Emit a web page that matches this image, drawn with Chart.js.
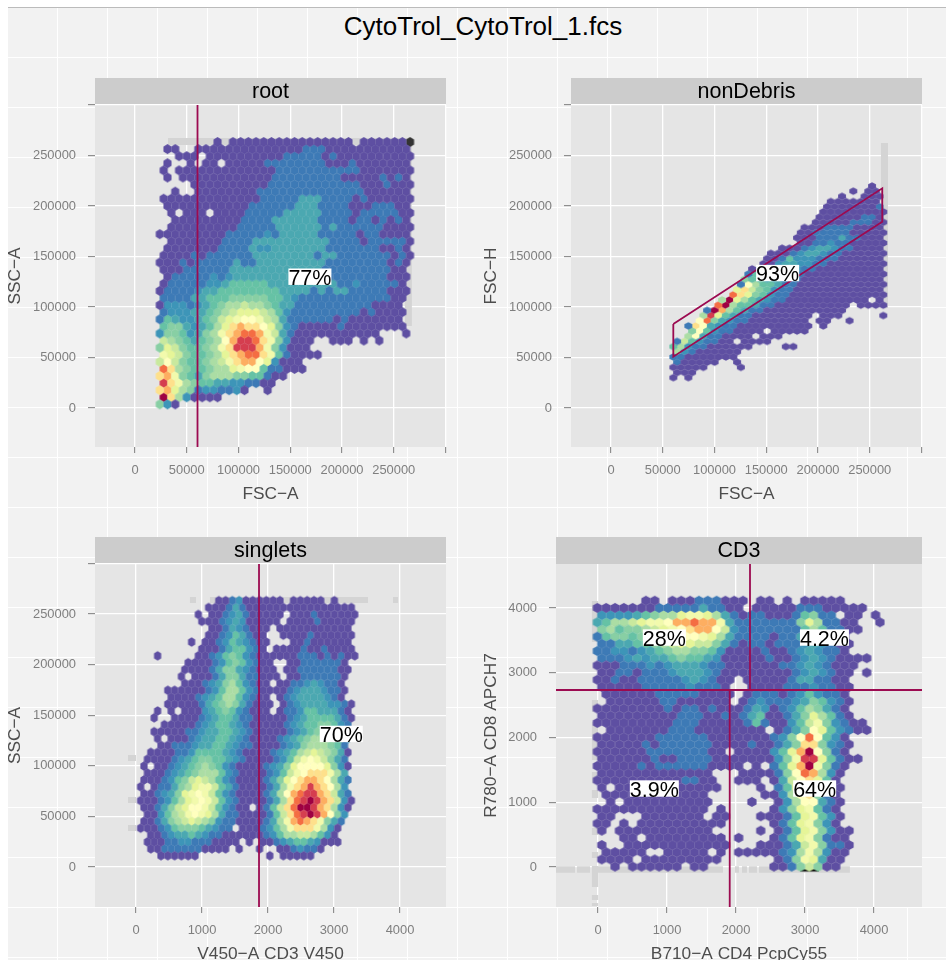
<!DOCTYPE html>
<html>
<head>
<meta charset="utf-8">
<title>CytoTrol_CytoTrol_1.fcs</title>
<script src="https://cdn.jsdelivr.net/npm/chart.js@4"></script>
<style>
    html, body { margin: 0; height: 960px; overflow: hidden; background: #fff; }
    #sheet {
        position: absolute; left: 8px; top: 7px; right: 0; bottom: 0;
        border-top: 1px solid #bbb;
        background-color: #f2f2f2;
        background-image:
            linear-gradient(to right, #fff 1.3px, transparent 1.3px),
            linear-gradient(to bottom, #fff 1.3px, transparent 1.3px);
        background-size: 50px 50px;
        background-position: 49px 49px;
    }
    #mainTitle {
        position: absolute; left: 8px; right: 0; top: 11px; padding-right: 0;
        text-align: center; font: 26px "Liberation Sans", sans-serif; color: #000;
        transform: translateX(6px);
    }
    canvas { position: absolute; }
</style>
</head>
<body>
<div id="sheet"></div>
<div id="mainTitle">CytoTrol_CytoTrol_1.fcs</div>
<canvas id="rootChart"></canvas>
<canvas id="nonDebrisChart"></canvas>
<canvas id="singletsChart"></canvas>
<canvas id="cd3Chart"></canvas>
<script>
// Hex bins, one run-length string per row from the top. Letter = density level, "." = empty bin
const rootRows = [
    "7.a.16a.6az", ".2a2.14a3c11a", "2.3a.10a5cac10a", ".a2.a.2a.5a8c3ac7a", "a.13a11c7a",
    ".a.12a9c5acaca", "4.10a12c3ac3a", "2.a2.8a14c6a", "13a5c3e4cac6a", ".11a6c3e4c3a3c2a",
    ".a.3a.4a5c5e4ca5c2a", "2.9a4c6e4ca2cacaca", ".9a5c6ece6c4a", "9a5cdc5e5ca2c4a", ".7a4c10e4ca5ca",
    ".7a4ce2d7e7c2aca", "4aca6c8ec2e7caca", "3aca5ce2c9e8caca", "3a6c12e9c2a", ".a5cdcd11e9c3a",
    "a5c2de5f9e2cd5ca", "a4cd2e8f4ecec2e5c3a", "4c2e3f5g2fed12c2a", "a3dcdefg2hi2hgf2e10c4a", "c3d2efghi3jihfd9cac4a",
    "cfe2defgijk2lkihe6cac7a", "f2gedefhjmn2mljgdc5ac8a", "d2gfdeghkmn2onkiec11a3.a", "ihgfefghln2pomkgd3a2.3a.a.a", "gjig2fghkmpppnkgd3a",
    "kjig2fghjmn2omkfc4a", "ilig2fghikm2nljd3a", "omhg2fg2hjk2lf2c3a", "mnkgfeg3h2g2fc2a", "pmkhg2f2e2d2c2a",
    "mnjhgc2d2cda2.a", "qmhd4a", "gda"
];
const nonDebrisRows = [
    "27.a", "24.a.2a", "23.a2.3a", "21.7a", "21.7ac", "20.9a", "20.6a2ca", "19.5a3c2a",
    "18.3a4c4a", "17.2a5c5a", "17.3a3ce2c3a", "17.2a2cd2c5a", "15.3acd2ed2c4a", "13.3acd2ed2c6a",
    "13.2acf3d3c6a", "12.2ad2e2d2c8a", "11.ad3e2d2c9a", "10.c2f2ed2c11a", "10.g2f2ed2c11a",
    "9.clh2fe2c12a", "9.jmigfd2c12a", "8.omjgfd2c13a", "7.hqjhfed2c11a.a", "6.oqh2fe2c10a.4a",
    "5.cqnhfe2c11a", "4.hpjfe2c8a.3a5.a", "4.loged2c8a.2a2.a", "2.cmled2c10a.a", "3.glfd2c4a.5a",
    "2.hle2c4a.3a", ".cifd2c2a.4a", "fhd2c6a4.2a", ".hdc6a", "2c7a", ".c5a2.a", "5a4.a", ".3a", "a.a"
];
const singletsRows = [
    "12.2acd6a.5a.a", "10.3acec16a", "9.a.2acdec5a.3ac6a", "9.3acded5a.4ac5a", "11.2acedc3a.11a",
    "10.2acdfec2a2.4ac6a", "8.a.2acdfedc2a3.2ac6a", "9.3ace2fdca.4ac2ac4a", "3.a5.2acdfgfdc6a3cacac2a", "7.4acdfgfdc2a2.2a6ca",
    "7.4ace2gedc3a.2a6c2a", "6.a.3ace2ge2c3a.2a6ca", "7.3acdeghfdc2a.2a2cded2ca", "4.6acdf2hfdc4acd3ed2ca", "5.4acdef2hfdc2a.acd4edca",
    "4.5acefghgec3a.acd4e2dca", "3.a.a.3adefgfdc3a.a2cd2f3eca", "2.a2.4acde2fe2c5acde4feca", "4.5acde2fedc5acde2f2gfdc", "2.5a2cd2e2fedc5acdef4gfd",
    "3.a.3acd2e2fedc4acdefg3hgfd", "3.2a3cd2e2fed2c4acdeg3hgfc", "2.4a2cd4fedc4acdefhijihgea", ".4acdef2g2fedc4acdfiklkigec", ".a.2acdefghgfdc4acdegj4ljgda",
    ".3acdefg3hfdc4acdfikl3mkhe", ".3acdfgijihfdc4acegjlm2nmlhec", "a.a2ceghj2kifec4acehkmnpnmlhd", ".2acdegjklkifdc4acehlno2pnmiec", "3acdfhjklkifdc4acehmopqpnmida",
    ".2acegij2lkifdc2a.acfimo2qpnmhda", ".2adfhiklkjhe2c4acfimopqpnlgd", ".2aceghijihgd2c4acehknonmkgec", "3acdf3gfed2c.3acdfhk3mkhda", "2.2acd2efed2c6acdf2h2ihfda",
    ".3a2c2d3c4a.a.2acde2fed3a", "2.2a6c4a.a2.a2.2acd2ca", "3.6a10.a.5a"
];
const cd3Rows = [
    "5.2a.3a3c3a.2a.a.5a", "7a5ce2c2a.5a3c5a", "4defg2hj2kjheca2c3acfg2c.2a.a", "ef2hij2kl2no2nke7cgjh2c2a2.a", "ghf2ghijklm2nlid7cfhf2c2a",
    "cf2gfghijk2lkjhe4ca2cefec2a", "2c2e2fghi2j2igeca2ca3cdedc2a", "2c2dcdefg2h2gfd4ac2acded2ca", "3cded2efg2fed5ac2acdedc4a", "3a3cdcd3ed2c6a2cdedc3a",
    "2a2ca3cd3edc8acdedc2a.a", "2ac2a5cdedc2a.5ac2e2c2a", "5a5cd3ca2.4a3cd2c2a", ".6a5c4a.a3cacdfd2ca", ".6a2c6a.acd3cdegfdca",
    "8aca2cac3acedacdfhgeca", "9a3c2acacef2acegjhfca", "9a3c5acfc2adfikgdc2a", ".7a3c8a.acegljfdc2a", "7a6c7acdglolfda",
    "5aca6c4ac2aceg2mgdca", "6a7c2a.4adfjnqlgca", "6ac2a4c7adgk2pjfc2a", "5aca6c4a.a.cfjnqkgca", "13a3.4acglonhda",
    "10a2c2a2.3a.aeilmjfa", "a.12a4.a.cfj2mhda", ".12a6.2adhlmgca", ".a.10a4.a2.adh2leca", "13a.a5.adgjkfca",
    "2a3.7a.2a3.3acfjkfda", "2a.a.10a5.acfjkgda", "a.11a5.a.acfjkgd2a", "3.2a.9a.a3.acfjkgc2a", "a2.12a3.3aceikg2ca",
    ".5a2.5a.a.5acdhkhd2a", "4a.9a6.acgkje2a", "2.a.6a.2a7.2acgig2a"
];

const levelColors = {
    a: '#5e4fa2', b: '#4a66ad', c: '#3d7ab6', d: '#3d95b8', e: '#4ba8b1', f: '#66c2a5',
    g: '#88cfa4', h: '#abdda4', i: '#c9e99e', j: '#e6f598', k: '#f2faac', l: '#ffffbf',
    m: '#fee08b', n: '#fdae61', o: '#f46d43', p: '#d53e4f', q: '#9e0142', z: '#333333'
};

const scatterTicks = [0, 50000, 100000, 150000, 200000, 250000, 300000];
const scatterLabels = [0, 50000, 100000, 150000, 200000, 250000];
const cd3Ticks = [0, 1000, 2000, 3000, 4000];

// Gates
const rootGateX = [60400, 60400];
const rootGateY = [-38600, 300000];
const nonDebrisGateX = [60200, 262100, 262100, 60200, 60200];
const nonDebrisGateY = [83170, 217500, 184450, 50800, 83170];
const singletsGateX = [1864, 1864];
const singletsGateY = [-39500, 299400];
const cd3GateX = [-609, 4696, null, 2203, 2203, null, 1909, 1909];
const cd3GateY = [2734, 2734, null, 2734, 4680, null, 2734, -618];

// Events piled up on the axis limits, drawn in light grey under the bins
const rootSpillX = [31900, 264150, 264150];
const rootSpillY = [263760, 263760, 81190];
const nonDebrisSpillX = [264250, 264250];
const nonDebrisSpillY = [262400, 99000];
const singletsSpillX = [818, 909, null, 1121, 3515, null, 3894, 3970, null, -121, 0, null, -121, 0, null, -121, 0];
const singletsSpillY = [263800, 263800, null, 263800, 263800, null, 263800, 263800, null, 107700, 107700, null, 66200, 66200, null, 38540, 38540];
const cd3SpillX = [-609, -333, null, -304, -116, null, -87, 1811, null, 1985, 2043, null, 2087, 2159, null, 2188, 2304, null, 2333, 3651,
    null, -43, -43, null, -43, -43, null, -43, -43, null, -43, -43, null, -43, -43, null, -43, -43, null, -43, -43, null, -43, -43, null, -43, -43, null, -43, -43, null, -43, -43];
const cd3SpillY = [-39, -39, null, -39, -39, null, -39, -39, null, -39, -39, null, -39, -39, null, -39, -39, null, -39, -39,
    null, 4108, 3475, null, 2579, 2394, null, 2239, 1652, null, 1467, 1297, null, 1189, 1066, null, 942, 849, null, 602, 494, null, 232, 139, null, 15, -309, null, -432, -510, null, -556, -602];
const cd3BlackX = [2930, 3200];
const cd3BlackY = [-50, -50];

// Percent labels
const rootLabelX = [169000];
const rootLabelY = [130000];
const rootLabelText = ['77%'];
const nonDebrisLabelX = [161000];
const nonDebrisLabelY = [133600];
const nonDebrisLabelText = ['93%'];
const singletsLabelX = [3110];
const singletsLabelY = [131500];
const singletsLabelText = ['70%'];
const cd3LabelX = [961, 3282, 816, 3140];
const cd3LabelY = [3544, 3544, 1212, 1212];
const cd3LabelText = ['28%', '4.2%', '3.9%', '64%'];

const GATE_COLOR = '#9c0a50';
const SPILL_COLOR = '#d4d4d4';

function hexSprite(color, halfW, halfH) {
    const c = document.createElement('canvas');
    c.width = Math.ceil(halfW * 2) + 4;
    c.height = Math.ceil(halfH * 2) + 4;
    const g = c.getContext('2d');
    const cx = c.width / 2, cy = c.height / 2;
    g.fillStyle = color;
    g.beginPath();
    g.moveTo(cx, cy - halfH);
    g.lineTo(cx + halfW, cy - halfH / 2);
    g.lineTo(cx + halfW, cy + halfH / 2);
    g.lineTo(cx, cy + halfH);
    g.lineTo(cx - halfW, cy + halfH / 2);
    g.lineTo(cx - halfW, cy - halfH / 2);
    g.closePath();
    g.fill();
    return c;
}

// Expand the run-length rows into one point list per density level
function binsByLevel(rows, x0, dx, y0, dy, evenShift) {
    const bins = {};
    rows.forEach((row, r) => {
        let c = 0;
        for (const m of row.matchAll(/(\d*)([a-z.])/g)) {
            const n = m[1] ? parseInt(m[1]) : 1;
            if (m[2] !== '.') {
                for (let i = 0; i < n; i++) {
                    const shift = r % 2 === 0 ? evenShift * dx : 0;
                    (bins[m[2]] = bins[m[2]] || []).push({ x: x0 + (c + i) * dx + shift, y: y0 - r * dy });
                }
            }
            c += n;
        }
    });
    return bins;
}

function toPoints(xs, ys) {
    return xs.map((x, i) => ({ x: x, y: ys[i] }));
}

const stripPlugin = {
    id: 'strip',
    beforeDraw(chart) {
        const a = chart.chartArea, ctx = chart.ctx;
        ctx.save();
        ctx.fillStyle = '#e5e5e5';
        ctx.fillRect(a.left, a.top, a.width, a.height);
        ctx.fillStyle = '#cccccc';
        ctx.fillRect(a.left, 0, a.width, a.top);
        ctx.restore();
    }
};

const percentPlugin = {
    id: 'percent',
    afterDatasetsDraw(chart, args, opts) {
        const ctx = chart.ctx;
        ctx.save();
        ctx.font = '21.5px "Liberation Sans"';
        ctx.textAlign = 'center';
        ctx.textBaseline = 'alphabetic';
        opts.text.forEach((t, i) => {
            const px = chart.scales.x.getPixelForValue(opts.x[i]);
            const py = chart.scales.y.getPixelForValue(opts.y[i]);
            const w = ctx.measureText(t).width;
            ctx.fillStyle = '#fff';
            ctx.fillRect(px - w / 2, py - 8.2, w, 16.4);
            ctx.fillStyle = '#000';
            ctx.fillText(t, px, py + 8);
        });
        ctx.restore();
    }
};

function makePanel(p) {
    const canvas = document.getElementById(p.id);
    const width = p.axisW + p.panelW + 20;
    const height = 27 + p.panelH + 60;
    canvas.width = width;
    canvas.height = height;
    canvas.style.left = (p.panelLeft - p.axisW) + 'px';
    canvas.style.top = p.stripTop + 'px';
    canvas.style.width = width + 'px';
    canvas.style.height = height + 'px';

    const datasets = [{
        data: toPoints(p.gateX, p.gateY),
        showLine: true, borderColor: GATE_COLOR, borderWidth: 1.8, pointRadius: 0, spanGaps: false, order: 0
    }];
    const bins = binsByLevel(p.rows, p.x0, p.dx, p.y0, p.dy, p.evenShift);
    Object.keys(bins).forEach(level => {
        datasets.push({
            data: bins[level], showLine: false, pointRadius: 5, order: 1,
            pointStyle: hexSprite(levelColors[level], p.hexW, p.hexH)
        });
    });
    datasets.push({
        data: toPoints(p.spillX, p.spillY),
        showLine: true, borderColor: SPILL_COLOR, borderWidth: p.spillWidth, pointRadius: 0, spanGaps: false, order: 3
    });
    if (p.blackX) {
        datasets.push({
            data: toPoints(p.blackX, p.blackY),
            showLine: true, borderColor: '#111', borderWidth: 2.5, pointRadius: 0, order: 2
        });
    }

    const tickFont = { family: '"Liberation Sans"', size: 12.9 };
    const titleFont = { family: '"Liberation Sans"', size: 17.3 };

    new Chart(canvas, {
        type: 'scatter',
        data: { datasets: datasets },
        plugins: [stripPlugin, percentPlugin],
        options: {
            responsive: false,
            animation: false,
            devicePixelRatio: 1,
            events: [],
            layout: { autoPadding: false, padding: { left: 0, right: 20, top: 0, bottom: 0 } },
            plugins: {
                legend: { display: false },
                tooltip: { enabled: false },
                title: {
                    display: true, text: p.strip, fullSize: false, color: '#000',
                    font: { family: '"Liberation Sans"', size: 21.5, weight: 'normal', lineHeight: 1.1 },
                    padding: { top: 2.6, bottom: 0.75 }
                },
                percent: { x: p.labelX, y: p.labelY, text: p.labelText }
            },
            scales: {
                x: {
                    type: 'linear', min: p.xMin, max: p.xMax,
                    afterBuildTicks: s => { s.ticks = p.xTicks.map(v => ({ value: v })); },
                    afterFit: s => { s.height = 60; },
                    border: { display: false },
                    grid: { color: '#fff', lineWidth: 1.3, tickColor: '#7f7f7f', tickLength: 6, tickWidth: 1 },
                    ticks: {
                        color: '#7f7f7f', font: tickFont, padding: 10, autoSkip: false, maxRotation: 0,
                        callback: v => p.xLabels.includes(v) ? String(v) : ''
                    },
                    title: {
                        display: true, text: p.xTitle, color: '#4d4d4d', font: titleFont,
                        padding: { top: 0, bottom: 2 }
                    }
                },
                y: {
                    type: 'linear', min: p.yMin, max: p.yMax,
                    afterBuildTicks: s => { s.ticks = p.yTicks.map(v => ({ value: v })); },
                    afterFit: s => { s.width = p.axisW; },
                    border: { display: false },
                    grid: { color: '#fff', lineWidth: 1.3, tickColor: '#7f7f7f', tickLength: 7, tickWidth: 1 },
                    ticks: {
                        color: '#7f7f7f', font: tickFont, padding: 12, autoSkip: false,
                        callback: v => p.yLabels.includes(v) ? String(v) : ''
                    },
                    title: {
                        display: true, text: p.yTitle, color: '#4d4d4d', font: titleFont,
                        padding: { top: 4.4, bottom: 0 }
                    }
                }
            }
        }
    });
}

makePanel({
    id: 'rootChart', strip: 'root', xTitle: 'FSC\u2212A', yTitle: 'SSC\u2212A',
    panelLeft: 95, stripTop: 78, panelW: 351, panelH: 342, axisW: 95,
    xMin: -38650, xMax: 300500, yMin: -38600, yMax: 300000,
    xTicks: scatterTicks, xLabels: scatterLabels, yTicks: scatterTicks, yLabels: scatterLabels,
    rows: rootRows, x0: 23960, dx: 7440, y0: 263366, dy: 7020, evenShift: 0.5, hexW: 4.05, hexH: 4.95,
    gateX: rootGateX, gateY: rootGateY, spillX: rootSpillX, spillY: rootSpillY, spillWidth: 7,
    labelX: rootLabelX, labelY: rootLabelY, labelText: rootLabelText
});

makePanel({
    id: 'nonDebrisChart', strip: 'nonDebris', xTitle: 'FSC\u2212A', yTitle: 'FSC\u2212H',
    panelLeft: 571, stripTop: 78, panelW: 351, panelH: 342, axisW: 95,
    xMin: -38650, xMax: 300500, yMin: -38600, yMax: 300000,
    xTicks: scatterTicks, xLabels: scatterLabels, yTicks: scatterTicks, yLabels: scatterLabels,
    rows: nonDebrisRows, x0: 60220, dx: 7246, y0: 219800, dy: 5129, evenShift: -0.5, hexW: 3.95, hexH: 3.65,
    gateX: nonDebrisGateX, gateY: nonDebrisGateY, spillX: nonDebrisSpillX, spillY: nonDebrisSpillY, spillWidth: 7,
    labelX: nonDebrisLabelX, labelY: nonDebrisLabelY, labelText: nonDebrisLabelText
});

makePanel({
    id: 'singletsChart', strip: 'singlets', xTitle: 'V450\u2212A CD3 V450', yTitle: 'SSC\u2212A',
    panelLeft: 95, stripTop: 537, panelW: 351, panelH: 343, axisW: 95,
    xMin: -621, xMax: 4697, yMin: -39500, yMax: 299400,
    xTicks: cd3Ticks, xLabels: cd3Ticks, yTicks: scatterTicks, yLabels: scatterLabels,
    rows: singletsRows, x0: 69.7, dx: 103, y0: 263170, dy: 6811, evenShift: -0.5, hexW: 3.6, hexH: 4.8,
    gateX: singletsGateX, gateY: singletsGateY, spillX: singletsSpillX, spillY: singletsSpillY, spillWidth: 6,
    labelX: singletsLabelX, labelY: singletsLabelY, labelText: singletsLabelText
});

makePanel({
    id: 'cd3Chart', strip: 'CD3', xTitle: 'B710\u2212A CD4 PcpCy55', yTitle: 'R780\u2212A CD8 APCH7',
    panelLeft: 556, stripTop: 537, panelW: 366, panelH: 343, axisW: 80,
    xMin: -609, xMax: 4696, yMin: -618, yMax: 4680,
    xTicks: cd3Ticks, xLabels: cd3Ticks, yTicks: cd3Ticks, yLabels: cd3Ticks,
    rows: cd3Rows, x0: -9.7, dx: 128, y0: 4113, dy: 111, evenShift: 0.5, hexW: 4.6, hexH: 5.0,
    gateX: cd3GateX, gateY: cd3GateY, spillX: cd3SpillX, spillY: cd3SpillY, spillWidth: 6.3,
    blackX: cd3BlackX, blackY: cd3BlackY,
    labelX: cd3LabelX, labelY: cd3LabelY, labelText: cd3LabelText
});
</script>
</body>
</html>
